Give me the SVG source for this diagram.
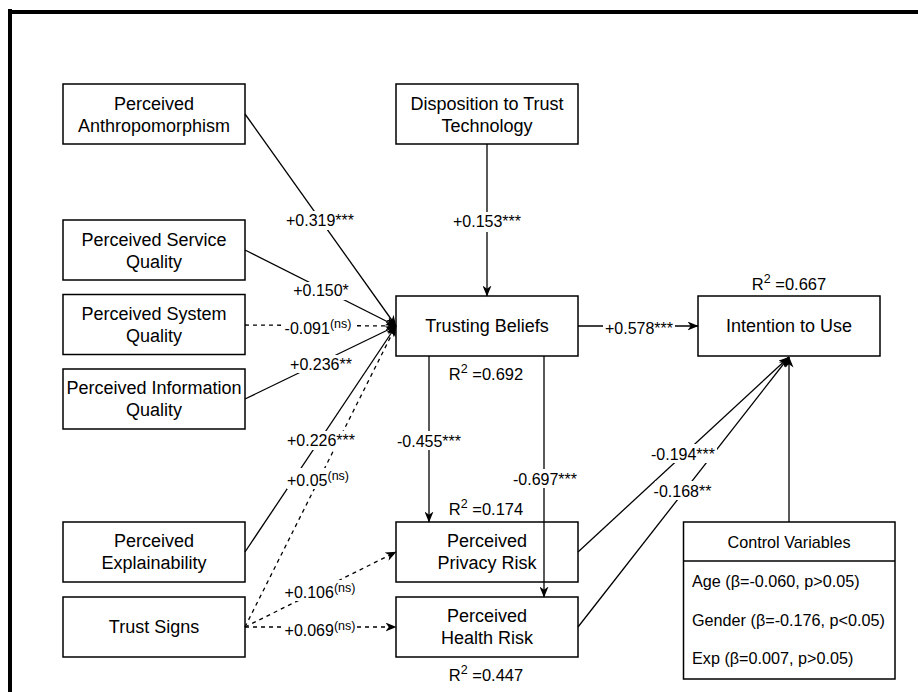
<svg xmlns="http://www.w3.org/2000/svg" width="918" height="692" viewBox="0 0 918 692">
<style>
text{font-family:"Liberation Sans",Arial,Helvetica,sans-serif;fill:#000}
.node rect{fill:#fff;stroke:#000;stroke-width:1.5}
.nt{font-size:18px;text-anchor:middle}
.el{font-size:16px;text-anchor:middle}
.r2{font-size:16.5px;text-anchor:middle}
.cv{font-size:16.2px}
.ln{fill:none;stroke:#000;stroke-width:1.3;marker-end:url(#arr)}
.dash{stroke-dasharray:4 4}
.lb{fill:#fff;stroke:none}
.sup{font-size:12.5px}
</style>
<defs>
<marker id="arr" viewBox="0 0 11 9" refX="10.5" refY="4.5" markerWidth="11" markerHeight="9" markerUnits="userSpaceOnUse" orient="auto">
<path d="M0,0 L11,4.5 L0,9 L3.2,4.5 z" fill="#000" stroke="none"/>
</marker>
</defs>
<rect width="918" height="692" fill="#fff"/>
<g id="frame">
<rect x="8" y="9" width="4" height="683" fill="#000"/>
<rect x="8" y="10" width="910" height="4" fill="#000"/>
</g>

<g id="n-anthro" class="node"><rect x="63" y="84" width="182" height="60"/><text class="nt" x="154" y="109.5">Perceived</text><text class="nt" x="154" y="131.5">Anthropomorphism</text></g>
<g id="n-disp" class="node"><rect x="396" y="84" width="182" height="60"/><text class="nt" x="487" y="109.5">Disposition to Trust</text><text class="nt" x="487" y="131.5">Technology</text></g>
<g id="n-service" class="node"><rect x="63" y="220" width="182" height="60"/><text class="nt" x="154" y="245.5">Perceived Service</text><text class="nt" x="154" y="267.5">Quality</text></g>
<g id="n-system" class="node"><rect x="63" y="294.5" width="182" height="60"/><text class="nt" x="154" y="319.5">Perceived System</text><text class="nt" x="154" y="341.5">Quality</text></g>
<g id="n-info" class="node"><rect x="63" y="369" width="182" height="60"/><text class="nt" x="154" y="394">Perceived Information</text><text class="nt" x="154" y="416">Quality</text></g>
<g id="n-explain" class="node"><rect x="63" y="522" width="182" height="60"/><text class="nt" x="154" y="547">Perceived</text><text class="nt" x="154" y="569">Explainability</text></g>
<g id="n-signs" class="node"><rect x="63" y="597" width="182" height="60"/><text class="nt" x="154" y="633">Trust Signs</text></g>
<g id="n-tb" class="node"><rect x="396" y="296" width="182" height="60"/><text class="nt" x="487" y="332">Trusting Beliefs</text></g>
<g id="n-itu" class="node"><rect x="698" y="296" width="182" height="60"/><text class="nt" x="789" y="332">Intention to Use</text></g>
<g id="n-privacy" class="node"><rect x="396" y="522" width="182" height="60"/><text class="nt" x="487" y="547">Perceived</text><text class="nt" x="487" y="569">Privacy Risk</text></g>
<g id="n-health" class="node"><rect x="396" y="597" width="182" height="60"/><text class="nt" x="487" y="622">Perceived</text><text class="nt" x="487" y="644">Health Risk</text></g>
<g id="n-control" class="node"><rect x="683.5" y="522" width="211.5" height="157"/><line x1="683.5" y1="561" x2="895" y2="561" stroke="#000" stroke-width="1.5"/>
<text class="cv" x="789" y="548" text-anchor="middle">Control Variables</text>
<text class="cv" x="692" y="587">Age (β=-0.060, p&gt;0.05)</text>
<text class="cv" x="692" y="625.5">Gender (β=-0.176, p&lt;0.05)</text>
<text class="cv" x="692" y="664">Exp (β=0.007, p&gt;0.05)</text></g>

<g id="connectors">
<path class="ln" d="M245,114 L396,326"/>
<path class="ln" d="M245,250 L396,326"/>
<path class="ln dash" d="M245,325 L396,326"/>
<path class="ln" d="M245,399 L396,326"/>
<path class="ln" d="M245,552 L396,326"/>
<path class="ln dash" d="M245,627 L396,326"/>
<path class="ln dash" d="M245,627 L396,552"/>
<path class="ln dash" d="M245,627 L396,627"/>
<path class="ln" d="M487,144 L487,296"/>
<path class="ln" d="M578,326 L698,326"/>
<path class="ln" d="M429,356 L429,522"/>
<path class="ln" d="M544,356 L544,597"/>
<path class="ln" d="M578,552 L789,357"/>
<path class="ln" d="M578,627 L789,357"/>
<path class="ln" d="M789,522 L789,357"/>
</g>

<g id="edge-labels">
<rect class="lb" x="285" y="211" width="70" height="19"/><text class="el" x="320" y="226">+0.319***</text>
<rect class="lb" x="452" y="212" width="70" height="20"/><text class="el" x="487" y="227">+0.153***</text>
<rect class="lb" x="292" y="282" width="58" height="18"/><text class="el" x="321" y="296">+0.150*</text>
<rect class="lb" x="284" y="316" width="70" height="20"/><text class="el" x="318" y="334">-0.091<tspan class="sup" dy="-6">(ns)</tspan></text>
<rect class="lb" x="289" y="355" width="64" height="18"/><text class="el" x="321" y="370">+0.236**</text>
<rect class="lb" x="286" y="431" width="70" height="19"/><text class="el" x="321" y="446">+0.226***</text>
<rect class="lb" x="287" y="468" width="62" height="21"/><text class="el" x="318" y="485.5">+0.05<tspan class="sup" dy="-6">(ns)</tspan></text>
<rect class="lb" x="284" y="580" width="72" height="21"/><text class="el" x="320" y="597.5">+0.106<tspan class="sup" dy="-6">(ns)</tspan></text>
<rect class="lb" x="284" y="619" width="72" height="21"/><text class="el" x="320" y="636">+0.069<tspan class="sup" dy="-6">(ns)</tspan></text>
<rect class="lb" x="603" y="318" width="72" height="19"/><text class="el" x="639" y="333.5">+0.578***</text>
<rect class="lb" x="396" y="431" width="66" height="19"/><text class="el" x="429" y="446.5">-0.455***</text>
<rect class="lb" x="512" y="469" width="66" height="19"/><text class="el" x="545" y="485">-0.697***</text>
<rect class="lb" x="650" y="444" width="67" height="19"/><text class="el" x="683" y="460">-0.194***</text>
<rect class="lb" x="655" y="481" width="56" height="19"/><text class="el" x="682.5" y="497">-0.168**</text>
</g>

<g id="r2-labels">
<text class="r2" x="789" y="289.5">R<tspan class="sup" dy="-7">2</tspan><tspan dy="7"> =0.667</tspan></text>
<text class="r2" x="486" y="380">R<tspan class="sup" dy="-7">2</tspan><tspan dy="7"> =0.692</tspan></text>
<text class="r2" x="486" y="515">R<tspan class="sup" dy="-7">2</tspan><tspan dy="7"> =0.174</tspan></text>
<text class="r2" x="486" y="681">R<tspan class="sup" dy="-7">2</tspan><tspan dy="7"> =0.447</tspan></text>
</g>
</svg>
